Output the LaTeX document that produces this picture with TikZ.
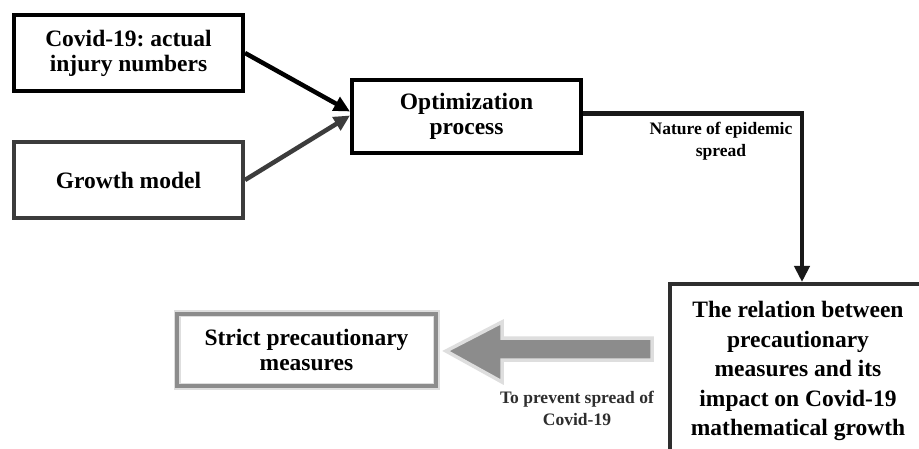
\documentclass[tikz,border=0pt]{standalone}
\usepackage{fontspec}
\setmainfont{Liberation Serif}
\usetikzlibrary{arrows.meta,calc}
\definecolor{dgray}{HTML}{3C3C3C}
\definecolor{mgray}{HTML}{8C8C8C}
\definecolor{lgray}{HTML}{DEDEDE}
\definecolor{tgray}{HTML}{2E2E2E}
\tikzset{
  boxbase/.style={rectangle, line width=4pt, align=center, inner sep=2pt,
    font=\bfseries\fontsize{23.5}{25}\selectfont},
  blackbox/.style={boxbase, draw=black},
  darkbox/.style={boxbase, draw=dgray},
  graybox/.style={boxbase, draw=mgray, preaction={draw=lgray, line width=7pt}},
  conn/.style={line width=4.5pt, -{Triangle[length=16pt,width=15pt]}},
  smalllabel/.style={align=center, font=\bfseries\fontsize{17.5}{22}\selectfont},
}
\begin{document}
\frenchspacing
\begin{tikzpicture}[x=1pt,y=-1pt]
\useasboundingbox (0,0) rectangle (919,449);
\clip (0,0) rectangle (919,449);
\fill[white] (0,0) rectangle (919,449);

\node[blackbox, minimum width=229pt, minimum height=76pt] (A) at (128.5,53) {Covid-19: actual\\injury numbers};
\node[darkbox, minimum width=229pt, minimum height=76pt] (B) at (128.5,180) {Growth model};
\node[blackbox, minimum width=229pt, minimum height=73pt] (C) at (466.5,116.5) {Optimization\\process};
\node[graybox, minimum width=259pt, minimum height=72pt] (E) at (306.5,350) {Strict precautionary\\measures};

% relation box (cut by the picture's edges)
\node[align=center, font=\bfseries\fontsize{23.5}{29.5}\selectfont] (D) at (798,371)
  {The relation between\\precautionary\\measures and its\\impact on Covid-19\\mathematical growth};
\draw[line width=4pt, draw=tgray] (670,470) |- (940,284);
\coordinate (Dtop) at (802,282);

% connectors
\draw[conn, black] (A.east) -- ($(C.west)+(0,-5)$);
\draw[conn, dgray] (B.east) -- ($(C.west)+(0,-1)$);
\draw[conn, black!90] ($(C.east)+(0,-3)$) -| (Dtop);
\node[smalllabel] (L1) at (721,141) {Nature of epidemic\\spread};

% block arrow towards the strict measures box
\coordinate (Ptail) at (652,349);
\coordinate (Ptip) at (446,351);
\draw[fill=mgray, draw=lgray, line width=3.5pt, line join=miter]
  (652,338) -- (502,338) -- (502,322) -- (Ptip) -- (502,382) -- (502,360) -- (652,360) -- cycle;
\node[smalllabel, text=tgray] (L2) at (577,408) {To prevent spread of\\Covid-19};
\end{tikzpicture}
\end{document}
